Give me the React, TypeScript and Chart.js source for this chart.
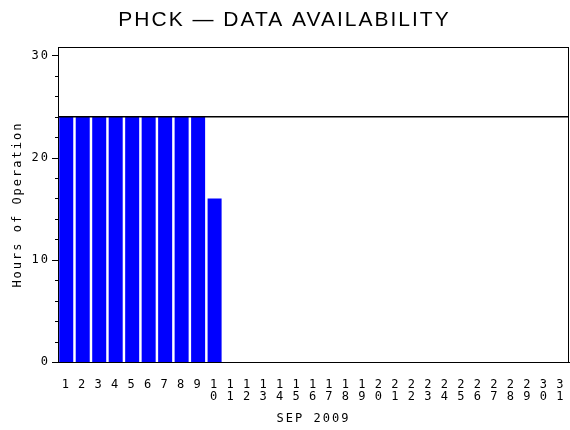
import React, { useEffect, useRef } from "react";
import { Chart, registerables } from "chart.js";

Chart.register(...registerables);

const TITLE = "PHCK \u2014 DATA AVAILABILITY";
const X_TITLE = "SEP 2009";
const Y_TITLE = "Hours of Operation";

const DAY_LABELS = [
  "1", "2", "3", "4", "5", "6", "7", "8", "9", "10",
  "11", "12", "13", "14", "15", "16", "17", "18", "19", "20",
  "21", "22", "23", "24", "25", "26", "27", "28", "29", "30", "31",
];

const HOURS = [
  24, 24, 24, 24, 24, 24, 24, 24, 24, 16,
  0, 0, 0, 0, 0, 0, 0, 0, 0, 0,
  0, 0, 0, 0, 0, 0, 0, 0, 0, 0, 0,
];

const Y_MIN = 0;
const Y_MAX = 30.8;
const Y_MAJOR_STEP = 10;
const Y_MINOR_STEP = 2;
const REF_LINE = 24;

const MONO = "'DejaVu Sans Mono', monospace";

const framePlugin = {
  id: "frameAndTicks",
  beforeDraw(chart: any) {
    chart.ctx.letterSpacing = "2px";
  },
  afterDatasetsDraw(chart: any) {
    const { ctx, chartArea, scales } = chart;
    const y = scales.y;
    ctx.save();
    // reference line
    const yRef = y.getPixelForValue(REF_LINE);
    ctx.strokeStyle = "#000";
    ctx.lineWidth = 1.5;
    ctx.beginPath();
    ctx.moveTo(chartArea.left, yRef);
    ctx.lineTo(chartArea.right, yRef);
    ctx.stroke();
    // frame
    ctx.lineWidth = 1;
    ctx.strokeRect(
      Math.round(chartArea.left) + 0.5,
      Math.round(chartArea.top) + 0.5,
      Math.round(chartArea.right - chartArea.left) - 1,
      Math.round(chartArea.bottom - chartArea.top)
    );
    // y ticks (major + minor)
    for (let v = Y_MIN; v <= Y_MAX; v += Y_MINOR_STEP) {
      const py = Math.round(y.getPixelForValue(v)) + 0.5;
      const len = v % Y_MAJOR_STEP === 0 ? 6 : 3;
      ctx.beginPath();
      ctx.moveTo(chartArea.left - len, py);
      ctx.lineTo(chartArea.left, py);
      ctx.stroke();
    }
    ctx.restore();
  },
};

export default function App() {
  const ref = useRef<HTMLCanvasElement | null>(null);

  useEffect(() => {
    if (!ref.current) return;
    const chart = new Chart(ref.current, {
      type: "bar",
      data: {
        labels: DAY_LABELS.map((d) => d.split("")),
        datasets: [
          {
            data: HOURS,
            backgroundColor: "#0000ff",
            borderWidth: 0,
            categoryPercentage: 1,
            barPercentage: 0.85,
          },
        ],
      },
      options: {
        responsive: false,
        animation: false,
        devicePixelRatio: 1,
        layout: { padding: { left: 0, right: 1, top: 0, bottom: 0 } },
        plugins: {
          legend: { display: false },
          tooltip: { enabled: false },
          title: {
            display: true,
            text: TITLE,
            color: "#000",
            font: { family: "'Liberation Sans', Arial, sans-serif", size: 21, weight: "normal", lineHeight: 1.2 },
            padding: { top: 8, bottom: 14 },
          },
        },
        scales: {
          x: {
            grid: { display: false, drawTicks: false },
            border: { display: true, color: "#000", width: 1 },
            ticks: {
              color: "#000",
              font: { family: MONO, size: 12, lineHeight: 1.0 },
              padding: 17,
              maxRotation: 0,
              minRotation: 0,
              autoSkip: false,
            },
            title: {
              display: true,
              text: X_TITLE,
              color: "#000",
              font: { family: MONO, size: 12, lineHeight: 1.2 },
              padding: { top: 4, bottom: 4 },
            },
            afterFit: (s: any) => {
              s.height = 68;
              s.paddingLeft = 0;
              s.paddingRight = 0;
            },
          },
          y: {
            min: Y_MIN,
            max: Y_MAX,
            grid: { display: false, drawTicks: false },
            border: { display: true, color: "#000", width: 1 },
            ticks: {
              stepSize: Y_MAJOR_STEP,
              includeBounds: false,
              color: "#000",
              font: { family: MONO, size: 12 },
              padding: 8,
            },
            title: {
              display: true,
              text: Y_TITLE,
              color: "#000",
              font: { family: MONO, size: 12, lineHeight: 1.2 },
              padding: { top: 11, bottom: 11 },
            },
            afterFit: (s: any) => {
              s.width = 58;
              s.paddingTop = 0;
              s.paddingBottom = 0;
            },
          },
        },
      },
      plugins: [framePlugin],
    } as any);
    return () => chart.destroy();
  }, []);

  return (
    <div style={{ position: "absolute", left: 0, top: 0, width: 570, height: 430, background: "#fff" }}>
      <canvas ref={ref} width={570} height={430} />
    </div>
  );
}
